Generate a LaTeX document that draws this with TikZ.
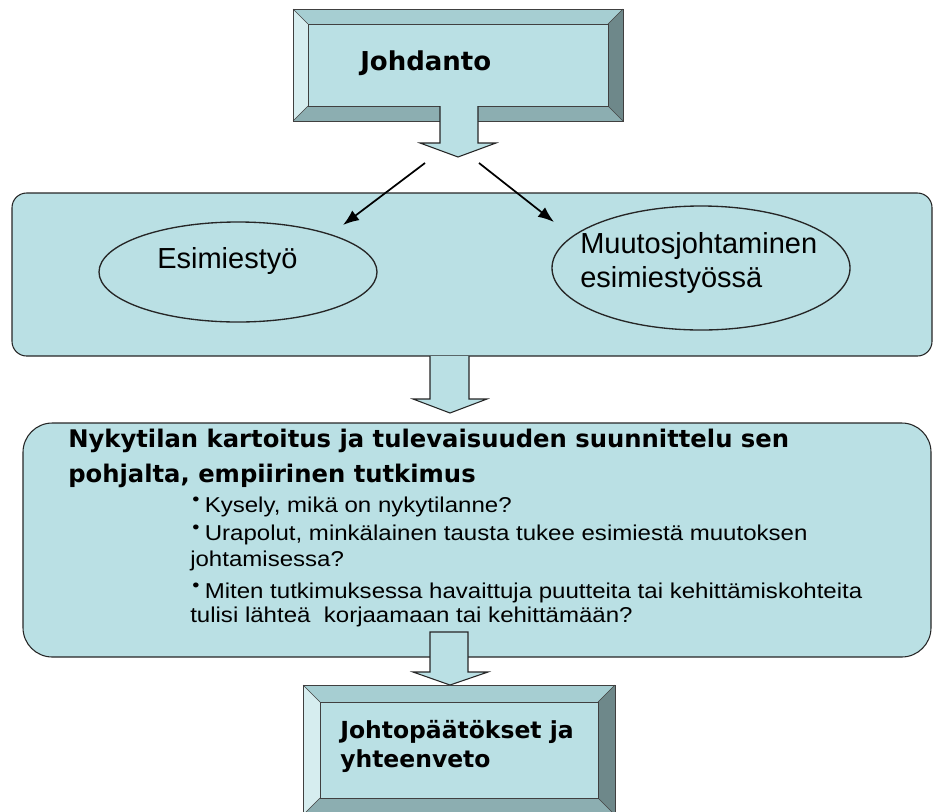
\documentclass[tikz,border=0pt]{standalone}
\usepackage{fontspec}
\usepackage{xcolor}
\usepackage{tikz}
\usetikzlibrary{shapes.geometric, arrows.meta}
\setmainfont{Liberation Sans}
\newfontfamily\headfont{DejaVu Sans}
\newfontfamily\listfont[FakeStretch=1.12]{Liberation Sans}
\definecolor{face}{RGB}{186,224,228}
\definecolor{bevtop}{RGB}{166,206,210}
\definecolor{bevleft}{RGB}{214,237,239}
\definecolor{bevright}{RGB}{110,136,138}
\definecolor{bevbottom}{RGB}{140,174,177}
\newcommand{\blt}{\raisebox{0.3em}{\scalebox{0.85}{•}}\hspace{0.25em}}

\begin{document}
\begin{tikzpicture}[x=0.75pt, y=-0.75pt,
    panel/.style={draw=black!85, fill=face, line width=0.8pt},
    bev/.style={draw=black!75, line width=0.5pt},
    blockarrow/.style={draw=black!85, fill=face, line width=0.8pt},
    oval/.style={draw=black!85, ellipse, line width=1pt, inner sep=0pt},
    headtxt/.style={anchor=base west, inner sep=0pt, font=\headfont\bfseries},
    ovaltxt/.style={anchor=base west, inner sep=0pt, font=\fontsize{21.75}{25}\selectfont},
    listtxt/.style={anchor=base west, inner sep=0pt, font=\listfont\fontsize{16.1}{19}\selectfont},
    thin/.style={-{Latex[length=12pt,width=9pt]}, line width=1.3pt}]
    \useasboundingbox (0,0) rectangle (934,811);
    \clip (0,0) rectangle (934,811);

    % top box
    \fill[bevtop] (293,9) -- (623,9) -- (608,24) -- (308,24) -- cycle;
    \fill[bevleft] (293,9) -- (308,24) -- (308,106) -- (293,121) -- cycle;
    \fill[bevright] (623,9) -- (623,121) -- (608,106) -- (608,24) -- cycle;
    \fill[bevbottom] (293,121) -- (623,121) -- (608,106) -- (308,106) -- cycle;
    \draw[bev] (293,9) -- (308,24) (623,9) -- (608,24) (623,121) -- (608,106) (293,121) -- (308,106);
    \draw[bev, fill=face] (308,24) rectangle (608,106);
    \draw[bev] (293,9) rectangle (623,121);
    \node[headtxt, font=\headfont\bfseries\fontsize{19.5}{23}\selectfont] (johdanto) at (360,70) {Johdanto};

    % arrow 1
    \fill[face] (440,106) -- (440,143) -- (420,143) -- (458,157) -- (496,143) -- (478,143) -- (478,106) -- cycle;
    \draw[blockarrow, fill=none] (440,106) -- (440,143) -- (420,143) -- (458,157) -- (496,143) -- (478,143) -- (478,106);

    % first panel
    \draw[panel, rounded corners=11pt] (12,193) rectangle (932,356);
    \node[oval, minimum width=208.5pt, minimum height=75pt] (esim) at (238,272) {};
    \node[oval, minimum width=223.5pt, minimum height=93pt] (muutos) at (701,268) {};
    \node[ovaltxt] (esimtxt) at (157,268) {Esimiestyö};
    \node[ovaltxt] (muutostxt) at (580,253) {Muutosjohtaminen};
    \node[ovaltxt] (muutostxt2) at (580,287) {esimiestyössä};

    \coordinate (s1) at (425,163);
    \coordinate (e1) at (343,225);
    \coordinate (s2) at (479,163);
    \coordinate (e2) at (554,222);
    \draw[thin] (s1) -- (e1);
    \draw[thin] (s2) -- (e2);

    % arrow 2
    \draw[blockarrow] (430,356) -- (430,399) -- (413,399) -- (450,413) -- (487,399) -- (469,399) -- (469,356);

    % second panel
    \draw[panel, rounded corners=22pt] (23,423) rectangle (931,657);
    \node[headtxt, font=\headfont\bfseries\fontsize{18.2}{22}\selectfont] (title1) at (68,447) {Nykytilan kartoitus ja tulevaisuuden suunnittelu sen};
    \node[headtxt, font=\headfont\bfseries\fontsize{18.2}{22}\selectfont] (title2) at (68,482) {pohjalta, empiirinen tutkimus};
    \node[listtxt] (l1) at (192,512) {\blt Kysely, mikä on nykytilanne?};
    \node[listtxt] (l2) at (192,540) {\blt Urapolut, minkälainen tausta tukee esimiestä muutoksen};
    \node[listtxt] (l3) at (190,566) {johtamisessa?};
    \node[listtxt] (l4) at (192,598) {\blt Miten tutkimuksessa havaittuja puutteita tai kehittämiskohteita};
    \node[listtxt] (l5) at (190,622) {tulisi lähteä\ \ korjaamaan tai kehittämään?};

    % arrow 3
    \draw[blockarrow] (430,632) -- (430,672) -- (413,672) -- (450,685) -- (488,672) -- (468,672) -- (468,632) -- cycle;

    % bottom box
    \fill[bevtop] (303,685) -- (615,685) -- (598,702) -- (320,702) -- cycle;
    \fill[bevleft] (303,685) -- (320,702) -- (320,798) -- (303,815) -- cycle;
    \fill[bevright] (615,685) -- (615,815) -- (598,798) -- (598,702) -- cycle;
    \fill[bevbottom] (303,815) -- (615,815) -- (598,798) -- (320,798) -- cycle;
    \draw[bev] (303,685) -- (320,702) (615,685) -- (598,702) (615,815) -- (598,798) (303,815) -- (320,798);
    \draw[bev, fill=face] (320,702) rectangle (598,798);
    \draw[bev] (303,685) rectangle (615,815);
    \node[headtxt, font=\headfont\bfseries\fontsize{17.6}{22}\selectfont] (concl1) at (340,738) {Johtopäätökset ja};
    \node[headtxt, font=\headfont\bfseries\fontsize{17.6}{22}\selectfont] (concl2) at (340,767) {yhteenveto};

\end{tikzpicture}
\end{document}
